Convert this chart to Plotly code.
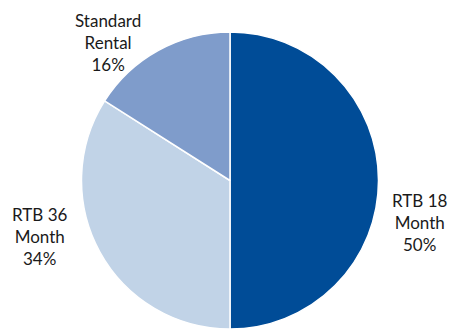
import plotly.graph_objects as go

labels = ["RTB 18<br>Month", "RTB 36<br>Month", "Standard<br>Rental"]
values = [50, 34, 16]
colors = ["#004C97", "#C1D3E7", "#7F9CCB"]

# label anchor positions (paper coords)
label_x = [0.927, 0.088, 0.238]
label_y = [0.325, 0.280, 0.872]

fig = go.Figure(go.Pie(
    labels=labels,
    values=values,
    sort=False,
    direction="clockwise",
    rotation=0,
    marker=dict(colors=colors, line=dict(color="white", width=1.5)),
    textinfo="none",
    hoverinfo="label+percent",
    domain=dict(x=[80/453, 380/453], y=[0, 1 - 32/329]),
    showlegend=False,
))

total = sum(values)
for lab, v, x, y in zip(labels, values, label_x, label_y):
    fig.add_annotation(
        x=x, y=y, xref="paper", yref="paper",
        xanchor="center", yanchor="middle",
        text=f"{lab}<br>{round(100*v/total)}%",
        showarrow=False, align="center",
        font=dict(family="Lato, sans-serif", size=17, color="#1a1a1a"),
    )

fig.update_layout(
    width=453, height=329,
    margin=dict(l=0, r=0, t=0, b=0),
    paper_bgcolor="white", plot_bgcolor="white",
)
fig.write_html("out.html", config={"displayModeBar": False},
               post_script="document.body.style.margin='0';")
